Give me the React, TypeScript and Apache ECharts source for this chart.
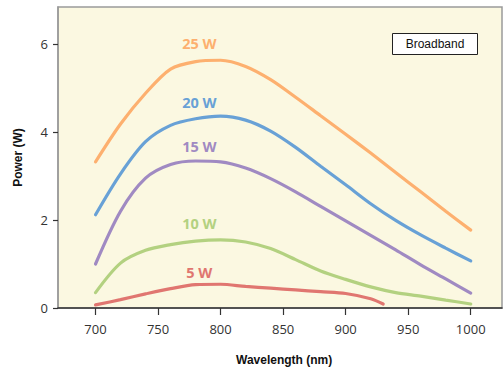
import React, { useEffect, useRef } from "react";
import * as echarts from "echarts";

const xTicks = [700, 750, 800, 850, 900, 950, 1000];
const yTicks = [0, 2, 4, 6];

const wl = [700, 720, 740, 760, 780, 800, 820, 840, 860, 880, 900, 920, 940, 960, 980, 1000];
const p25 = [3.32, 4.18, 4.88, 5.43, 5.6, 5.63, 5.49, 5.19, 4.79, 4.37, 3.95, 3.52, 3.08, 2.64, 2.2, 1.77];
const p20 = [2.12, 3.05, 3.78, 4.15, 4.3, 4.36, 4.27, 4.02, 3.65, 3.22, 2.8, 2.37, 1.99, 1.66, 1.36, 1.07];
const p15 = [1.0, 2.2, 2.95, 3.26, 3.34, 3.32, 3.18, 2.94, 2.64, 2.31, 1.98, 1.65, 1.32, 0.98, 0.66, 0.34];
const p10 = [0.35, 1.02, 1.31, 1.44, 1.52, 1.55, 1.5, 1.35, 1.1, 0.84, 0.65, 0.48, 0.35, 0.27, 0.18, 0.09];
const wl5 = [700, 720, 740, 760, 780, 800, 820, 840, 860, 880, 900, 920, 930];
const p5 = [0.07, 0.19, 0.32, 0.44, 0.53, 0.54, 0.49, 0.45, 0.41, 0.37, 0.33, 0.21, 0.09];

const names = ["25 W", "20 W", "15 W", "10 W", "5 W"];
const colors = ["#FDB06F", "#68A1D6", "#A08AC2", "#B3D180", "#E07670"];
const labelAt = [6.02, 4.66, 3.66, 1.93, 0.8];
const labelX = 783;

export default function App() {
  const ref = useRef<HTMLDivElement>(null);
  useEffect(() => {
    if (!ref.current) return;
    const chart = echarts.init(ref.current, null, { renderer: "svg" });
    const sets = [
      [wl, p25],
      [wl, p20],
      [wl, p15],
      [wl, p10],
      [wl5, p5],
    ];
    const series = sets.map(([xs, ys], i) => ({
      type: "line",
      name: names[i],
      smooth: 0.3,
      showSymbol: false,
      symbol: "none",
      data: (xs as number[]).map((x, j) => [x, (ys as number[])[j]]),
      lineStyle: { color: colors[i], width: 3.2, cap: "round" },
      markPoint: {
        symbol: "circle",
        symbolSize: 1,
        itemStyle: { color: "rgba(0,0,0,0)" },
        data: [
          {
            coord: [labelX, labelAt[i]],
            label: {
              show: true,
              formatter: names[i],
              color: colors[i],
              fontSize: 14.5,
              fontWeight: "bold",
              fontFamily: "Open Sans",
              position: "inside",
            },
          },
        ],
      },
    }));
    chart.setOption({
      animation: false,
      grid: {
        left: 58,
        right: 1,
        top: 7,
        bottom: 65,
        show: true,
        backgroundColor: "#FBF8E1",
        borderColor: "#9a9a9a",
        borderWidth: 1.5,
      },
      xAxis: {
        type: "value",
        min: 670,
        max: 1025,
        axisLine: { show: true, lineStyle: { color: "#333", width: 1.5 } },
        axisTick: {
          show: true,
          length: 7,
          customValues: xTicks,
          lineStyle: { color: "#333", width: 1.2 },
        },
        axisLabel: {
          customValues: xTicks,
          formatter: (v: number) => String(v),
          margin: 14,
          fontSize: 13,
          color: "#333",
          fontFamily: "Open Sans",
        },
        splitLine: { show: false },
      },
      yAxis: {
        type: "value",
        min: 0,
        max: 6.84,
        name: "Power (W)",
        nameLocation: "middle",
        nameGap: 34,
        nameTextStyle: {
          fontSize: 12,
          fontWeight: "bold",
          color: "#111",
          fontFamily: "Liberation Sans",
        },
        axisLine: { show: true, lineStyle: { color: "#9a9a9a", width: 1.5 } },
        axisTick: {
          show: true,
          length: 5,
          customValues: yTicks,
          lineStyle: { color: "#333", width: 1.2 },
        },
        axisLabel: {
          customValues: yTicks,
          formatter: (v: number) => String(v),
          margin: 10,
          fontSize: 13,
          color: "#333",
          fontFamily: "Open Sans",
        },
        splitLine: { show: false },
      },
      graphic: [
        {
          type: "text",
          left: 236,
          top: 354,
          style: {
            text: "Wavelength (nm)",
            fontSize: 12,
            fontWeight: "bold",
            fill: "#111",
            fontFamily: "Liberation Sans",
          },
        },
        {
          type: "group",
          left: 392,
          top: 33,
          children: [
            {
              type: "rect",
              shape: { x: 0, y: 0, width: 85, height: 21 },
              style: { fill: "#fff", stroke: "#222", lineWidth: 1 },
            },
            {
              type: "text",
              x: 42.5,
              y: 10.5,
              style: {
                text: "Broadband",
                fontSize: 12,
                fill: "#111",
                align: "center",
                verticalAlign: "middle",
                fontFamily: "Liberation Sans",
              },
            },
          ],
        },
      ],
      series,
    });
    return () => chart.dispose();
  }, []);
  return (
    <div
      ref={ref}
      style={{ position: "absolute", left: 0, top: 0, width: 503, height: 373 }}
    />
  );
}
